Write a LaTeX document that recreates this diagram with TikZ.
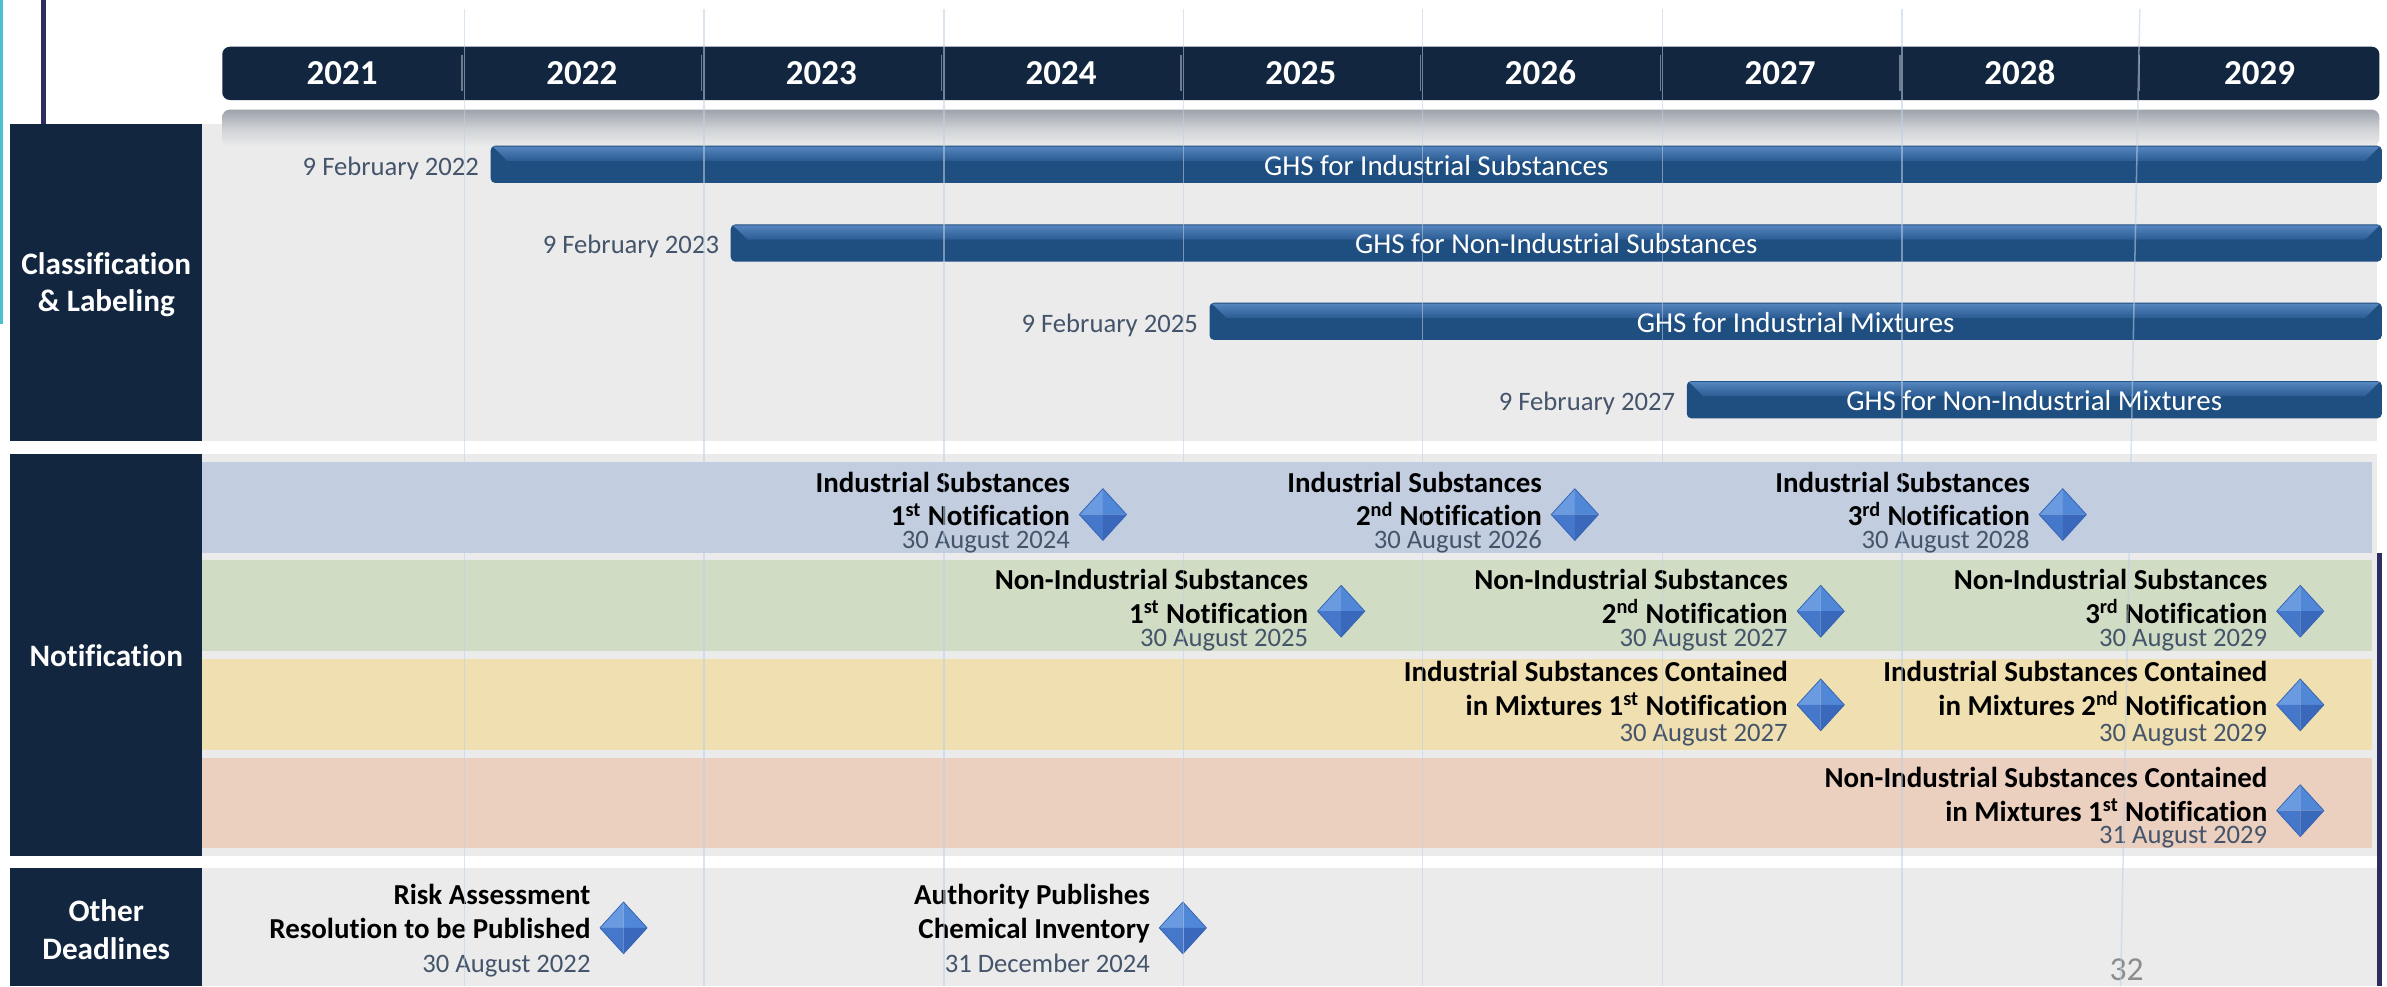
\documentclass[tikz,border=0pt]{standalone}
\usepackage{fontspec}
\setmainfont{Carlito}[Ligatures={NoCommon}]
\definecolor{navy}{HTML}{12263F}
\definecolor{secbox}{HTML}{13263F}
\definecolor{greybg}{HTML}{EBEBEB}
\definecolor{barbody}{HTML}{1F4E80}
\definecolor{bartop}{HTML}{5585BE}
\definecolor{barmid}{HTML}{2A5B92}
\definecolor{datecol}{HTML}{44546A}
\definecolor{tealline}{HTML}{4BBFD0}
\definecolor{indigo}{HTML}{2C2E62}
\definecolor{gridcol}{HTML}{BDD0E8}
\definecolor{bandblue}{HTML}{C2CDE0}
\definecolor{bandgreen}{HTML}{D0DCC4}
\definecolor{bandyellow}{HTML}{F0DFB0}
\definecolor{bandpeach}{HTML}{EBCFBF}
\definecolor{gtop}{HTML}{9DA3AB}
\definecolor{gmid}{HTML}{CDD0D4}
\definecolor{sepcol}{HTML}{6D7C8E}
\definecolor{dTL}{HTML}{6A9AE0}
\definecolor{dTR}{HTML}{5087D6}
\definecolor{dBL}{HTML}{4577CA}
\definecolor{dBR}{HTML}{3A69BC}
\definecolor{dEdge}{HTML}{3463B4}
\definecolor{pagecol}{HTML}{8C8C8C}
\tikzset{
  mlabel/.style={anchor=base east, inner sep=0pt, font=\bfseries\fontsize{19}{22}\selectfont, text=black},
  mdate/.style={anchor=base east, inner sep=0pt, font=\fontsize{17.5}{20}\selectfont, text=datecol},
  bartext/.style={anchor=base, inner sep=0pt, font=\fontsize{19}{22}\selectfont, text=white},
  bardate/.style={anchor=base east, inner sep=0pt, font=\fontsize{17.5}{20}\selectfont, text=datecol},
  yearlbl/.style={anchor=base, inner sep=0pt, font=\bfseries\fontsize{23}{26}\selectfont, text=white},
  seclbl/.style={anchor=base, inner sep=0pt, font=\bfseries\fontsize{20.5}{24}\selectfont, text=white},
  gridln/.style={draw=gridcol, line width=1pt, opacity=0.55},
  sepline/.style={draw=sepcol, line width=1pt},
}
\newcommand\milestone[9]{%
  \coordinate (#1) at (#2,#3);
  \fill[dTL] ({#2},{#3-17}) -- ({#2-15.5},{#3}) -- ({#2},{#3}) -- cycle;
  \fill[dTR] ({#2},{#3-17}) -- ({#2+15.5},{#3}) -- ({#2},{#3}) -- cycle;
  \fill[dBL] ({#2},{#3+17}) -- ({#2-15.5},{#3}) -- ({#2},{#3}) -- cycle;
  \fill[dBR] ({#2},{#3+17}) -- ({#2+15.5},{#3}) -- ({#2},{#3}) -- cycle;
  \draw[dEdge, line width=0.5pt, line join=round] ({#2},{#3-17}) -- ({#2+15.5},{#3}) -- ({#2},{#3+17}) -- ({#2-15.5},{#3}) -- cycle;
  \node[mlabel] (#1a) at ({#2-21.5},{#4}) {#7};
  \node[mlabel] (#1b) at ({#2-21.5},{#5}) {#8};
  \node[mdate] (#1c) at ({#2-21.5},{#6}) {#9};
}
\newcommand\ghsbar[6]{%
  \fill[barbody, rounded corners=3pt] (#2,#3) rectangle (#4,{#3+24.5});
  \shade[top color=bartop, bottom color=barmid] ({#2+1.5},{#3+0.6}) -- ({#4-1.5},{#3+0.6}) -- ({#4-11},{#3+10}) -- ({#2+11},{#3+10}) -- cycle;
  \node[bartext] (#1) at ({(#2+#4)/2},{#3+19.3}) {#5};
  \node[bardate] (#1d) at ({#2-7.5},{#3+19.3}) {#6};
}
\newcommand{\st}[1]{\textsuperscript{#1}}
\begin{document}
\begin{tikzpicture}[x=1pt,y=-1pt]
\useasboundingbox[fill=white] (0,0) rectangle (1568,648);
% left decorations
\draw[tealline, line width=2.2pt] (1.1,0) -- (1.1,213);
\draw[indigo, line width=3.3pt] (28.3,0) -- (28.3,82);
% section backgrounds
\fill[greybg] (133,81.5) rectangle (1561.5,289.5);
\fill[greybg] (133,298) rectangle (1561.5,562);
\fill[greybg] (133,570) rectangle (1561.5,648);
% section boxes
\fill[secbox] (6.6,81.5) rectangle (133,289.5);
\fill[secbox] (6.6,298) rectangle (133,562);
\fill[secbox] (6.6,570) rectangle (133,648);
\node[seclbl] (cl1) at (69.8,180.5) {Classification};
\node[seclbl] (cl2) at (69.8,204.5) {\& Labeling};
\node[seclbl] (nt) at (69.8,437.6) {Notification};
\node[seclbl] (od1) at (69.8,605) {Other};
\node[seclbl] (od2) at (69.8,630) {Deadlines};
% header
\fill[navy, rounded corners=5pt] (146,30.7) rectangle (1563,65.7);
\foreach \i in {1,...,8} \draw[sepline] ({146+157.44*\i},36) -- ({146+157.44*\i},60);
\foreach \yr [count=\i from 0] in {2021,2022,2023,2024,2025,2026,2027,2028,2029}
  \node[yearlbl] (y\yr) at ({146+157.44*(\i+0.5)},55.8) {\yr};
% gradient strip under header
\shade[top color=gtop, bottom color=greybg, middle color=gmid, rounded corners=5pt]
  (146,96) -- (146,72) -- (1563,72) -- (1563,96) -- cycle;
% GHS bars
\ghsbar{b1}{322.3}{95.7}{1564.6}{GHS for Industrial Substances}{9 February 2022}
\ghsbar{b2}{480}{147.4}{1564.6}{GHS for Non-Industrial Substances}{9 February 2023}
\ghsbar{b3}{794.5}{198.8}{1564.6}{GHS for Industrial Mixtures}{9 February 2025}
\ghsbar{b4}{1108}{250.3}{1564.6}{GHS for Non-Industrial Mixtures}{9 February 2027}
% notification bands
\fill[bandblue] (133,303.5) rectangle (1558,363);
\fill[bandgreen] (133,368) rectangle (1558,427.6);
\fill[bandyellow] (133,433) rectangle (1558,492.5);
\fill[bandpeach] (133,498) rectangle (1558,557);
% milestones
\milestone{m1}{724.5}{338}{323.5}{345.5}{360.5}{Industrial Substances}{1\st{st} Notification}{30 August 2024}
\milestone{m2}{1034.5}{338}{323.5}{345.5}{360.5}{Industrial Substances}{2\st{nd} Notification}{30 August 2026}
\milestone{m3}{1355}{338}{323.5}{345.5}{360.5}{Industrial Substances}{3\st{rd} Notification}{30 August 2028}
\milestone{m4}{881}{401.5}{387}{409.4}{424.7}{Non-Industrial Substances}{1\st{st} Notification}{30 August 2025}
\milestone{m5}{1196}{401.5}{387}{409.4}{424.7}{Non-Industrial Substances}{2\st{nd} Notification}{30 August 2027}
\milestone{m6}{1511}{401.5}{387}{409.4}{424.7}{Non-Industrial Substances}{3\st{rd} Notification}{30 August 2029}
\milestone{m7}{1196}{463}{447.7}{470}{487.3}{Industrial Substances Contained}{in Mixtures 1\st{st} Notification}{30 August 2027}
\milestone{m8}{1511}{463}{447.7}{470}{487.3}{Industrial Substances Contained}{in Mixtures 2\st{nd} Notification}{30 August 2029}
\milestone{m9}{1511}{532.5}{517.1}{539.6}{554.4}{Non-Industrial Substances Contained}{in Mixtures 1\st{st} Notification}{31 August 2029}
\milestone{m10}{409.6}{609.5}{593.9}{616.4}{639}{Risk Assessment}{Resolution to be Published}{30 August 2022}
\milestone{m11}{777}{609.5}{593.9}{616.4}{639}{Authority Publishes}{Chemical Inventory}{31 December 2024}
% right line and page number
\draw[indigo, line width=3.3pt] (1562.8,363) -- (1562.8,648);
\node[anchor=base, inner sep=0pt, font=\fontsize{22}{24}\selectfont, text=pagecol] (pg) at (1397,644) {32};
% faint grid lines
\foreach \gx in {305,462.5,620,777.5,934.5,1092,1249.5}
  \draw[gridln] (\gx,6) -- (\gx,648);
\draw[gridln] (1405.6,6) -- (1393,648);
\end{tikzpicture}
\end{document}
